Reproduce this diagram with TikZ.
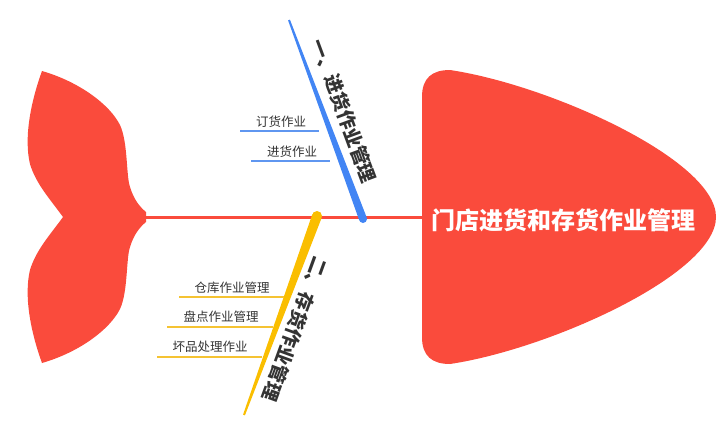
\documentclass[tikz,border=0pt]{standalone}
\usepackage{fontspec}
\setmainfont{Noto Sans CJK SC}
\usetikzlibrary{calc}
\definecolor{fishred}{RGB}{250, 75, 60}
\definecolor{boneblue}{RGB}{66, 133, 244}
\definecolor{boneyellow}{RGB}{250, 190, 0}
\definecolor{subblue}{RGB}{95, 150, 240}
\definecolor{subyellow}{RGB}{245, 195, 50}
\definecolor{labelgray}{RGB}{51, 51, 51}
\tikzset{
    spine/.style={draw=fishred, line width=3pt},
    bonelabel/.style={font=\fontsize{19}{19}\selectfont\bfseries, text=labelgray, inner sep=0pt},
    subline/.style={line width=2pt},
    subtext/.style={font=\fontsize{12.5}{13}\selectfont, text=labelgray, inner sep=0pt},
    headtext/.style={font=\fontsize{24}{24}\selectfont\bfseries, text=white, inner sep=0pt},
}
\begin{document}
\begin{tikzpicture}[x=1pt, y=-1pt]
    \useasboundingbox (0,0) rectangle (728,434);

    % Tail
    \fill[fishred] (42,71) .. controls (80,82) and (110,105) .. (120,125)
        .. controls (128,142) and (126,175) .. (130,187)
        .. controls (134,200) and (140,207) .. (146,212) -- (146,222)
        .. controls (140,227) and (134,234) .. (130,247)
        .. controls (126,259) and (128,292) .. (120,309)
        .. controls (110,329) and (80,352) .. (42,363)
        .. controls (30,330) and (24,295) .. (30,270)
        .. controls (36,250) and (50,235) .. (63,217)
        .. controls (50,199) and (36,184) .. (30,164)
        .. controls (24,139) and (30,104) .. (42,71) -- cycle;

    % Head
    \fill[fishred] (422,97) .. controls (422,78) and (432,70) .. (450,70)
        .. controls (550,85) and (716,160) .. (716,217)
        .. controls (716,274) and (550,349) .. (450,364)
        .. controls (432,364) and (422,356) .. (422,337) -- cycle;
    \node[headtext] (head) at (563,220) {门店进货和存货作业管理};

    % Spine
    \coordinate (tail) at (145,217);
    \coordinate (headl) at (422,217);
    \draw[spine] (tail) -- (headl);

    % Bone one
    \coordinate (bt1) at (289,20);
    \coordinate (bb1) at (363,219);
    \fill[boneblue] ($(bt1)!1pt!90:(bb1)$) -- ($(bt1)!1pt!-90:(bb1)$)
        -- ($(bb1)!4pt!90:(bt1)$) -- ($(bb1)!4pt!-90:(bt1)$) -- cycle;
    \fill[boneblue] (bb1) circle (4pt);
    \node[bonelabel, rotate=-69.7] (lab1) at (344,111) {一、进货作业管理};

    \coordinate (s1) at (240,131);
    \coordinate (s2) at (251,161);
    \coordinate (j1) at ($(bt1)!(s1)!(bb1)$);
    \coordinate (j2) at ($(bt1)!(s2)!(bb1)$);
    \draw[subline, draw=subblue] (s1) -- (s1 -| j1);
    \draw[subline, draw=subblue] (s2) -- (s2 -| j2);
    \node[subtext] (t1) at (281,122) {订货作业};
    \node[subtext] (t2) at (292,152) {进货作业};

    % Bone two
    \coordinate (bt2) at (317,216);
    \coordinate (bb2) at (244,415);
    \fill[boneyellow] ($(bt2)!5pt!90:(bb2)$) -- ($(bt2)!5pt!-90:(bb2)$)
        -- ($(bb2)!1pt!90:(bt2)$) -- ($(bb2)!1pt!-90:(bt2)$) -- cycle;
    \fill[boneyellow] (bt2) circle (5pt);
    \node[bonelabel, rotate=-110] (lab2) at (295,329) {二、存货作业管理};

    \coordinate (s3) at (179,297);
    \coordinate (s4) at (167,327);
    \coordinate (s5) at (157,357);
    \draw[subline, draw=subyellow] (s3) -- (284,297);
    \draw[subline, draw=subyellow] (s4) -- (273,327);
    \draw[subline, draw=subyellow] (s5) -- (262,357);
    \node[subtext] (t3) at (232,288) {仓库作业管理};
    \node[subtext] (t4) at (221,317) {盘点作业管理};
    \node[subtext] (t5) at (210,347) {坏品处理作业};
\end{tikzpicture}
\end{document}
